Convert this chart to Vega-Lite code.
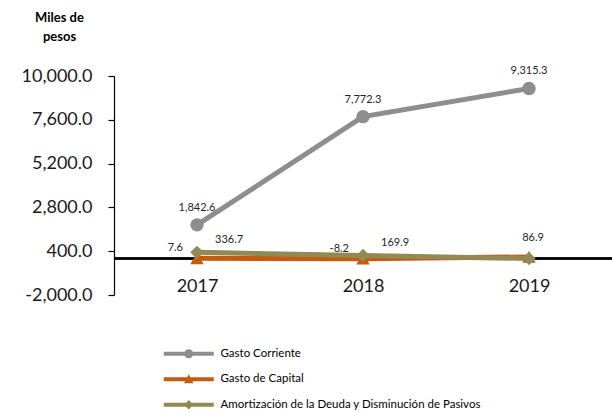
{
  "$schema": "https://vega.github.io/schema/vega-lite/v6.json",
  "width": 498,
  "height": 219,
  "autosize": "none",
  "padding": {"left": 114, "top": 76, "right": 0, "bottom": 117},
  "background": "white",
  "config": {
    "view": {"stroke": null},
    "font": "Lato",
    "text": {"font": "Lato"},
    "locale": {"number": {"decimal": ".", "thousands": ",", "grouping": [3], "currency": ["$", ""], "minus": "-"}}
  },
  "data": {
    "values": [
      {"anio": "2017", "serie": "Gasto Corriente", "valor": 1842.6},
      {"anio": "2018", "serie": "Gasto Corriente", "valor": 7772.3},
      {"anio": "2019", "serie": "Gasto Corriente", "valor": 9315.3},
      {"anio": "2017", "serie": "Gasto de Capital", "valor": 7.6},
      {"anio": "2018", "serie": "Gasto de Capital", "valor": -8.2},
      {"anio": "2019", "serie": "Gasto de Capital", "valor": 86.9},
      {"anio": "2017", "serie": "Amortización de la Deuda y Disminución de Pasivos", "valor": 336.7},
      {"anio": "2018", "serie": "Amortización de la Deuda y Disminución de Pasivos", "valor": 169.9},
      {"anio": "2019", "serie": "Amortización de la Deuda y Disminución de Pasivos", "valor": 0}
    ]
  },
  "encoding": {
    "x": {
      "field": "anio", "type": "ordinal",
      "scale": {"type": "point", "padding": 0.5},
      "axis": {
        "title": null, "domain": false, "ticks": false, "labelAngle": 0,
        "labelFont": "Lato", "labelFontSize": 18, "labelColor": "#1a1a1a",
        "labelPadding": -18
      }
    },
    "y": {
      "field": "valor", "type": "quantitative",
      "scale": {"domain": [-2000, 10000], "nice": false, "zero": false},
      "axis": {
        "values": [-2000, 400, 2800, 5200, 7600, 10000],
        "format": ",.1f", "grid": false,
        "domainColor": "#000000", "domainWidth": 1.2,
        "tickColor": "#000000", "tickSize": 6, "tickWidth": 1.2,
        "labelFont": "Lato", "labelFontSize": 18, "labelColor": "#1a1a1a", "labelPadding": 16,
        "title": ["Miles de", "pesos"],
        "titleFont": "Lato", "titleFontSize": 13, "titleFontWeight": "bold", "titleColor": "#000000",
        "titleAngle": 0, "titleAlign": "center", "titleBaseline": "top",
        "titleX": -55, "titleY": -65, "titleLineHeight": 19
      }
    }
  },
  "resolve": {"scale": {"color": "independent", "shape": "independent"}},
  "layer": [
    {
      "mark": {"type": "rule", "color": "#000000", "strokeWidth": 1.5},
      "encoding": {"y": {"datum": 0}, "x": null}
    },
    {
      "mark": {"type": "line", "strokeWidth": 5},
      "encoding": {
        "color": {
          "field": "serie", "type": "nominal",
          "scale": {
            "domain": ["Gasto Corriente", "Gasto de Capital", "Amortización de la Deuda y Disminución de Pasivos"],
            "range": ["#8e8e90", "#c55a11", "#938953"]
          },
          "legend": null
        }
      }
    },
    {
      "mark": {"type": "point", "filled": true, "opacity": 1, "size": 180},
      "encoding": {
        "color": {
          "field": "serie", "type": "nominal",
          "scale": {
            "domain": ["Gasto Corriente", "Gasto de Capital", "Amortización de la Deuda y Disminución de Pasivos"],
            "range": ["#8e8e90", "#c55a11", "#938953"]
          },
          "legend": null
        },
        "shape": {
          "field": "serie", "type": "nominal",
          "scale": {
            "domain": ["Gasto Corriente", "Gasto de Capital", "Amortización de la Deuda y Disminución de Pasivos"],
            "range": ["circle", "triangle-up", "diamond"]
          },
          "legend": null
        }
      }
    },
    {
      "mark": {"type": "point", "filled": true, "opacity": 0},
      "encoding": {
        "color": {
          "field": "serie", "type": "nominal",
          "scale": {
            "domain": ["Gasto Corriente", "Gasto de Capital", "Amortización de la Deuda y Disminución de Pasivos"],
            "range": ["#8e8e90", "#c55a11", "#938953"]
          },
          "legend": {
            "title": null, "orient": "none", "legendX": 50, "legendY": 272,
            "direction": "vertical",
            "labelFont": "Lato", "labelFontSize": 11.5, "labelColor": "#000000", "labelLimit": 500,
            "symbolOpacity": 1, "symbolStrokeWidth": 0,
            "symbolSize": 100, "symbolOffset": 19, "labelOffset": 26, "rowPadding": 12.5,
            "encoding": {"symbols": {"opacity": {"value": 1}}}
          }
        },
        "shape": {
          "field": "serie", "type": "nominal",
          "scale": {
            "domain": ["Gasto Corriente", "Gasto de Capital", "Amortización de la Deuda y Disminución de Pasivos"],
            "range": [
              "M-5,-0.4L5,-0.4L5,0.4L-5,0.4Z M-0.9,0A0.9,0.9 0 1,1 0.9,0A0.9,0.9 0 1,1 -0.9,0Z",
              "M-5,-0.4L5,-0.4L5,0.4L-5,0.4Z M0,-1L0.95,0.8L-0.95,0.8Z",
              "M-5,-0.4L5,-0.4L5,0.4L-5,0.4Z M0,-0.95L0.95,0L0,0.95L-0.95,0Z"
            ]
          },
          "legend": {
            "title": null, "orient": "none", "legendX": 50, "legendY": 272,
            "direction": "vertical",
            "labelFont": "Lato", "labelFontSize": 11.5, "labelColor": "#000000", "labelLimit": 500,
            "symbolOpacity": 1, "symbolStrokeWidth": 0,
            "symbolSize": 100, "symbolOffset": 19, "labelOffset": 26, "rowPadding": 12.5,
            "encoding": {"symbols": {"opacity": {"value": 1}}}
          }
        }
      }
    },
    {
      "transform": [{"filter": "datum.serie === 'Gasto Corriente'"}],
      "mark": {"type": "text", "dy": -17, "fontSize": 11, "font": "Lato", "color": "#262626"},
      "encoding": {"text": {"field": "valor", "type": "quantitative", "format": ",.1f"}}
    },
    {
      "transform": [{"filter": "datum.serie === 'Gasto de Capital' && datum.anio !== '2019'"}],
      "mark": {"type": "text", "align": "right", "dx": -14, "dy": -10, "fontSize": 11, "font": "Lato", "color": "#262626"},
      "encoding": {"text": {"field": "valor", "type": "quantitative", "format": ",.1f"}}
    },
    {
      "transform": [{"filter": "datum.serie === 'Gasto de Capital' && datum.anio === '2019'"}],
      "mark": {"type": "text", "dx": 4, "dy": -19, "fontSize": 11, "font": "Lato", "color": "#262626"},
      "encoding": {"text": {"field": "valor", "type": "quantitative", "format": ",.1f"}}
    },
    {
      "transform": [{"filter": "datum.serie === 'Amortización de la Deuda y Disminución de Pasivos' && datum.anio !== '2019'"}],
      "mark": {"type": "text", "align": "left", "dx": 18, "dy": -12, "fontSize": 11, "font": "Lato", "color": "#262626"},
      "encoding": {"text": {"field": "valor", "type": "quantitative", "format": ",.1f"}}
    }
  ]
}
